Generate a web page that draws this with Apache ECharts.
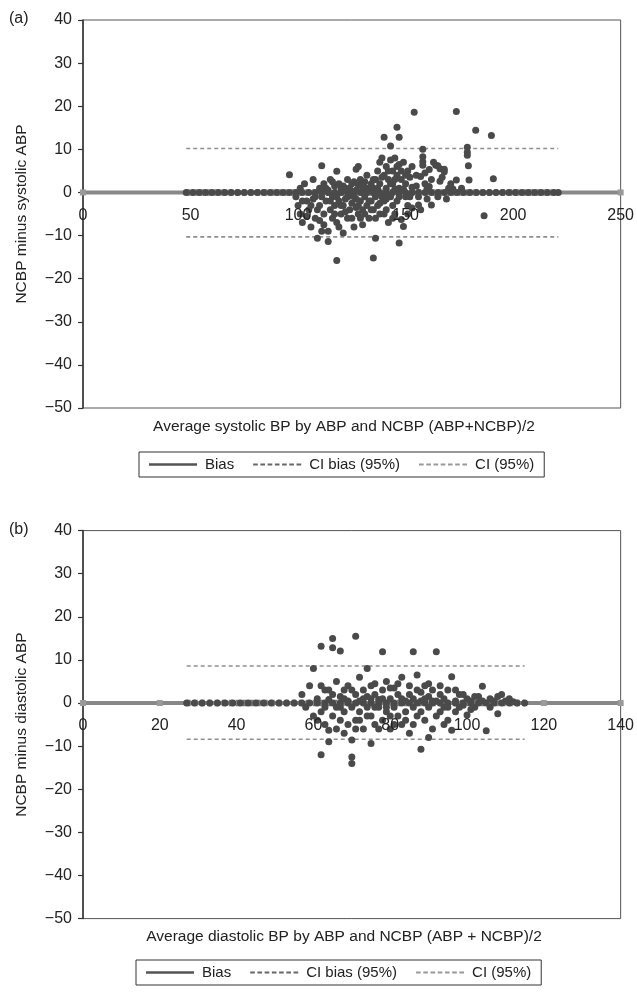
<!DOCTYPE html>
<html>
<head>
<meta charset="utf-8">
<script src="https://cdn.jsdelivr.net/npm/echarts@6/dist/echarts.min.js"></script>
<style>
html,body{margin:0;padding:0;background:#fff;}
#chart{width:637px;height:993px;}
</style>
</head>
<body>
<div id="chart"></div>
<script>
// ---------- Data ----------
const panelLabels = ['(a)', '(b)'];
const yTitles = ['NCBP minus systolic ABP', 'NCBP minus diastolic ABP'];
const xTitles = ['Average systolic BP by ABP and NCBP (ABP+NCBP)/2', 'Average diastolic BP by ABP and NCBP (ABP + NCBP)/2'];
const legendNames = ['Bias', 'CI bias (95%)', 'CI (95%)'];

// panel (a) systolic
const sysXAxis = { min: 0, max: 250, interval: 50 };
const sysBias = 0;
const sysBiasX = [0, 250];
const sysCIBias = [0.6, -0.6];
const sysCI = [10.2, -10.3];
const sysLineRange = [48, 221];
const sysZeroX = [48,51,54,57,60,63,66,69,72,75,78,81,84,87,90,93,96,99,102,105,108,111,114,117,120,123,126,129,132,135,138,141,144,147,150,153,156,159,162,165,168,171,174,177,180,183,186,189,192,195,198,201,204,207,210,213,216,219,221];
const sysPoints = [
[96,4.1],[99,-1],[100,-3],[101,-5],[102,-7],[101,1],[103,2],[104,-2],[105,-4],[106,-8],[107,3],[108,-1],[108,-6],[109,-10.6],[110,1],[110,-3],[111,6.2],[111,-9],[112,2],[112,-5],
[113,-2],[114,-11.4],[114,-9],[114,0.5],[115,3],[115,-4],[116,-1],[116,-6],[117,-3],[117,1.5],[118,4.9],[118,-15.8],[118,-7],[119,-2],[119,2],[120,-5],[120,0.8],[121,-9.4],[121,-3],[122,1],
[122,-1.5],[123,-6],[123,3],[124,-4],[124,-0.8],[125,-2.5],[125,2],[126,-8],[126,-1],[127,5.4],[127,0.5],[127,-3.5],[128,6],[128,-5],[128,1.8],[129,-2],[129,3],[130,-4],[130,-7.5],[130,0.8],
[131,-1],[131,2.5],[132,-3],[132,4],[133,-6],[133,0.5],[134,-2],[134,2],[135,-15.2],[135,-4],[135,1],[136,3],[136,-10.6],[136,-1],[137,5],[137,-3],[138,7],[138,2],[138,-5],[139,-1],
[139,8],[140,12.8],[140,4],[140,-2],[141,6],[141,1],[141,-4],[142,3],[142,-7],[143,10.8],[143,7.5],[143,-1],[144,5],[144,2],[144,-3],[145,8],[145,0.8],[145,-5],[146,15.1],[146,4],
[146,-2],[147,12.8],[147,6.5],[147,-11.7],[147,1],[148,3],[148,-6.3],[149,-7.9],[149,7],[150,2],[150,-1],[151,5],[151,-3],[152,3.5],[153,-3.6],[153,1.2],[154,18.6],[155,4],[156,-2.9],[157,3.7],
[158,10],[158,8.3],[158,7.1],[158,6.3],[159,2],[160,-1.5],[161,5.3],[161,1.4],[162,-2.9],[163,7],[164,6.3],[165,6.2],[166,2.6],[166,5.5],[168,5.4],[168,4.8],[170,1],[173.6,18.8],[173.6,2.9],[176,1],
[178.7,10.5],[178.7,9.3],[178.7,8.6],[179.2,6.2],[179.5,2.9],[182.6,14.4],[186.5,-5.4],[189.9,13.2],[190.8,3.2],
[102,-2],[104,-5.5],[106,-3],[107,-1.5],[109,-4],[110,-6.5],[111,-1],[112,-7.5],[113,1],[115,-2],[116,2.5],[117,-5],[118,-1],[119,-8],[120,-3],[121,1.5],[122,-4.5],[123,-1],[124,1],[125,-6],
[126,2.5],[127,-1.5],[128,-3],[129,-6],[130,2],[131,-5],[132,1],[133,-2],[134,-4],[135,3],[136,-6],[137,1],[138,-2.5],[139,3.5],[140,-5],[141,-1.5],[142,5],[143,2],[144,-6],[145,3],
[146,6],[147,-1],[148,5],[149,0.8],[150,4],[151,-5],[152,-1],[153,6],[155,1.5],[156,-1],[157,-4],[159,4.5],[160,1],[162,3],[165,-1],[167,3.5],[169,-1.5],[171,2],[172,0.8]
];

// panel (b) diastolic
const diaXAxis = { min: 0, max: 140, interval: 20 };
const diaBias = 0;
const diaBiasX = [0, 20, 120, 140];
const diaCIBias = [0.6, -0.6];
const diaCI = [8.6, -8.4];
const diaLineRange = [27, 115];
const diaZeroX = [27,29,31,33,35,37,39,41,43,45,47,49,51,53,55,57,59,61,63,65,67,69,71,73,75,77,79,81,83,85,87,89,91,93,95,97,99,101,103,105,107,109,111,113,115];
const diaPoints = [
[57,2],[58,-1],[59,4],[60,8],[60,-3],[61,1],[62,13.2],[62,-2],[62,-12],[63,3],[63,-5],[64,-6.3],[64,0.8],[65,15],[65,12.8],[65,2],[65,-3],[66,-1],[66,5],[67,12.1],
[67,-4],[67,1.5],[68,3],[68,-7],[68,-2],[69,0.5],[69,4],[70,-12.5],[70,-14],[70,-8.6],[70,-1],[71,15.5],[71,2],[71,-4],[72,6],[72,-2],[72,0.5],[73,3],[73,-6],[74,8],
[74,-1],[74,1.5],[75,-9.4],[75,4],[75,-3],[76,-5],[76,2],[77,-1],[77,0.8],[78,11.9],[78,3],[78,-4],[79,5],[79,-2],[80,-6],[80,1],[81,3.5],[81,-1],[82,-3],[82,2],
[83,6],[83,-5],[84,0.5],[84,-2],[85,4],[85,-7],[86,11.9],[86,1],[86,-1],[87,6.5],[87,-3],[88,-10.7],[88,2.5],[88,0.5],[89,-4],[89,4],[90,-1],[90,1.5],[91,3],[91,-6],
[92,11.9],[92,0.5],[93,-2],[93,2],[94,-5],[94,1],[95,3],[95,-1],[96,6.1],[96,-6.3],[97,0.5],[97,-2],[98,2],[99,-0.5],[100,-2.8],[100,1],[101,0.5],[102,-1],[103,1.5],[104,3.9],
[104,0.5],[105,-6.4],[106,1],[107,0.5],[108,-2.5],[108,1.5],[109,2],[110,0.5],[111,1],[112,0.3],
[61,-4],[62,4],[63,-1],[64,3],[64,-9],[66,-6],[67,-1],[68,1],[69,-5],[70,3],[71,-6],[72,-4],[73,1],[74,-3],[75,1],[76,-1],[76,4.5],[77,-6],[78,1],[79,-1],
[80,3.5],[80,-3],[81,-5],[82,4.5],[83,1],[84,-4],[85,2],[86,-5],[87,3],[88,-2],[89,1],[90,-8],[90,4.5],[91,0.5],[92,-3],[93,4],[94,-1],[95,-4],[97,3],[98,-1],
[99,2],[101,-1.5],[102,1.5],[106,-1]
];

const yAxisCfg = { min: -50, max: 40, interval: 10 };

// ---------- Styles ----------
const FONT = 'Liberation Sans, Arial, sans-serif';
const TXT = '#222';
const DOT = '#4a4a4a';
const BIAS_COL = '#888';
const CIB_COL = '#777';
const CI_COL = '#8f8f8f';

const GRID_H = 388;
const grids = [
  { left: 83, top: 20, width: 539, height: GRID_H },
  { left: 83, top: 530.6, width: 539, height: GRID_H }
];
// x axis sits on y = 0 : shift it up from the bottom of the grid
const zeroOffset = -GRID_H * (0 - yAxisCfg.min) / (yAxisCfg.max - yAxisCfg.min);

function mkX(cfg, idx) {
  return {
    type: 'value', gridIndex: idx, min: cfg.min, max: cfg.max, interval: cfg.interval,
    position: 'bottom', offset: zeroOffset, z: 10, zlevel: 1,
    axisLine: { show: false, onZero: false },
    axisTick: { show: false },
    splitLine: { show: false },
    axisLabel: { color: TXT, fontSize: 16, fontFamily: FONT, margin: 15, showMinLabel: true, showMaxLabel: true }
  };
}
function mkY(idx) {
  return {
    type: 'value', gridIndex: idx, min: yAxisCfg.min, max: yAxisCfg.max, interval: yAxisCfg.interval,
    name: yTitles[idx], nameLocation: 'middle', nameGap: 53, nameRotate: 90,
    nameTextStyle: { color: TXT, fontSize: 15.5, fontFamily: FONT },
    axisLine: { show: true, onZero: false, lineStyle: { color: '#333', width: 1.5 } },
    axisTick: { show: true, inside: false, length: 5, lineStyle: { color: '#333', width: 1.2 } },
    splitLine: { show: false },
    axisLabel: { color: TXT, fontSize: 16, fontFamily: FONT, margin: 11,
      formatter: v => String(v).replace('-', '\u2212') }
  };
}

function seriesFor(idx, biasX, bias, ciBias, ci, range, zeroX, pts) {
  const s = [];
  s.push({
    name: 'Bias', type: 'line', xAxisIndex: idx, yAxisIndex: idx,
    data: biasX.map(x => [x, bias]),
    symbol: 'rect', symbolSize: 6, showSymbol: true,
    itemStyle: { color: '#9a9a9a' },
    lineStyle: { color: BIAS_COL, width: 4 }, z: 2, silent: true
  });
  ciBias.forEach(v => s.push({
    name: 'CI bias (95%)', type: 'line', xAxisIndex: idx, yAxisIndex: idx,
    data: [[range[0], v], [range[1], v]], symbol: 'none',
    itemStyle: { color: CIB_COL },
    lineStyle: { color: CIB_COL, width: 1.2, type: [4, 3] }, z: 2, silent: true
  }));
  ci.forEach(v => s.push({
    name: 'CI (95%)', type: 'line', xAxisIndex: idx, yAxisIndex: idx,
    data: [[range[0], v], [range[1], v]], symbol: 'none',
    itemStyle: { color: CI_COL },
    lineStyle: { color: CI_COL, width: 1.6, type: [4, 3] }, z: 2, silent: true
  }));
  s.push({
    name: 'points', type: 'scatter', xAxisIndex: idx, yAxisIndex: idx,
    data: zeroX.map(x => [x, 0]).concat(pts),
    symbol: 'circle', symbolSize: 7, itemStyle: { color: DOT, opacity: 1 }, z: 3, silent: true
  });
  return s;
}

// legend icons: a solid bar and dashed bars
const DASH_ICON = 'path://M0,0h4.5v2h-4.5z M7,0h4.5v2h-4.5z M14,0h4.5v2h-4.5z M21,0h4.5v2h-4.5z M28,0h4.5v2h-4.5z M35,0h4.5v2h-4.5z M42,0h4.5v2h-4.5z';
function mkLegend(left, top) {
  return {
    left: left, top: top, orient: 'horizontal',
    data: [
      { name: legendNames[0], icon: 'rect', itemStyle: { color: '#555', borderWidth: 0 } },
      { name: legendNames[1], icon: DASH_ICON, itemStyle: { color: '#666', borderWidth: 0 } },
      { name: legendNames[2], icon: DASH_ICON, itemStyle: { color: '#999', borderWidth: 0 } }
    ],
    itemWidth: 48, itemHeight: 2.5, itemGap: 19,
    padding: [5, 10, 5, 10],
    borderColor: '#333', borderWidth: 1,
    textStyle: { color: TXT, fontSize: 15, fontFamily: FONT, padding: [0, 0, 0, 3], lineHeight: 15 },
    selectedMode: false
  };
}

const option = {
  animation: false,
  backgroundColor: '#fff',
  grid: grids.map(g => Object.assign({ show: true, borderColor: '#555', borderWidth: 1, backgroundColor: 'transparent' }, g)),
  xAxis: [mkX(sysXAxis, 0), mkX(diaXAxis, 1)],
  yAxis: [mkY(0), mkY(1)],
  legend: [mkLegend(139, 452), mkLegend(136, 960)],
  series: [].concat(
    seriesFor(0, sysBiasX, sysBias, sysCIBias, sysCI, sysLineRange, sysZeroX, sysPoints),
    seriesFor(1, diaBiasX, diaBias, diaCIBias, diaCI, diaLineRange, diaZeroX, diaPoints)
  ),
  graphic: [
    { type: 'text', left: 9, top: 11, style: { text: panelLabels[0], fill: TXT, font: '16px ' + FONT } },
    { type: 'text', left: 9, top: 522, style: { text: panelLabels[1], fill: TXT, font: '16px ' + FONT } },
    { type: 'text', x: 344, y: 427, style: { text: xTitles[0], fill: TXT, font: '15.5px ' + FONT, textAlign: 'center', textVerticalAlign: 'middle' } },
    { type: 'text', x: 344, y: 937, style: { text: xTitles[1], fill: TXT, font: '15.5px ' + FONT, textAlign: 'center', textVerticalAlign: 'middle' } }
  ]
};

const chart = echarts.init(document.getElementById('chart'), null, { renderer: 'canvas' });
chart.setOption(option);
</script>
</body>
</html>
